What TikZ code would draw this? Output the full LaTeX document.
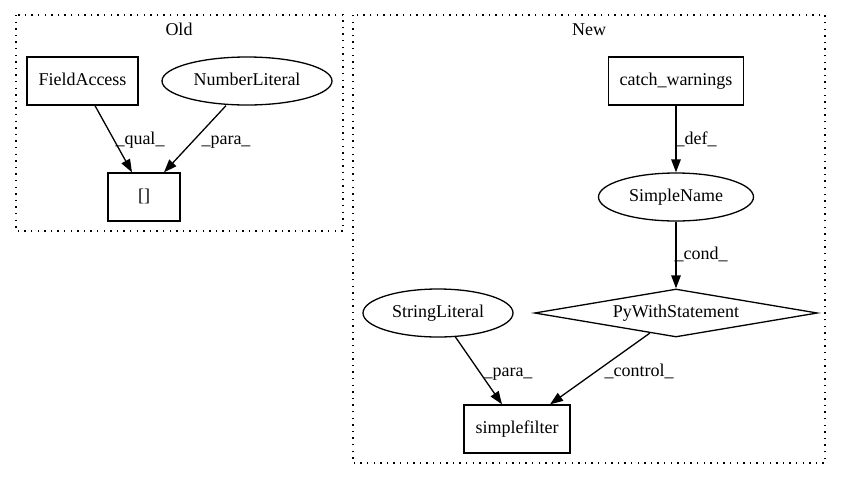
\documentclass[tikz,border=0pt]{standalone}
\usepackage{fontspec}
\setmainfont{Liberation Serif}
\usetikzlibrary{shapes.geometric,arrows.meta,calc}
\begin{document}
\begin{tikzpicture}[x=1pt,y=-1pt,
  every node/.style={font=\fontsize{18}{20}\selectfont, inner sep=0pt, text height=12pt, text depth=4pt},
  box/.style={draw, line width=1.3pt, rectangle},
  oval/.style={draw, line width=1.3pt, ellipse},
  cluster/.style={draw, line width=1.3pt, dash pattern=on 1.4pt off 5.2pt},
  edge/.style={draw, line width=1.3pt, -{Triangle[length=13pt,width=9.5pt]}},
  lbl/.style={}]
\useasboundingbox (0,0) rectangle (841,480);
\fill[white] (0,0) rectangle (841,480);
% clusters
\draw[cluster] (16,15) rectangle (343,231);
\draw[cluster] (353,15) rectangle (825,463);
\node (told) at (179,31) {Old};
\node (tnew) at (589,31) {New};
% Old nodes
\node[box, minimum width=111pt, minimum height=48pt] (fa) at (82.5,81) {FieldAccess};
\node[oval, minimum width=170pt, minimum height=48pt] (nl) at (247,81) {NumberLiteral};
\node[box, minimum width=72pt, minimum height=48pt] (br) at (144,197) {[]};
% New nodes
\node[box, minimum width=135pt, minimum height=48pt] (cw) at (676,81) {catch\_warnings};
\node[oval, minimum width=155pt, minimum height=48pt] (sn) at (676,197) {SimpleName};
\node[diamond, draw, line width=1.3pt, aspect=5.9, minimum width=283pt, minimum height=48pt] (pw) at (676,313) {PyWithStatement};
\node[oval, minimum width=150pt, minimum height=48pt] (sl) at (438,313) {StringLiteral};
\node[box, minimum width=106pt, minimum height=48pt] (sf) at (517,429) {simplefilter};
% edges
\draw[edge] ([xshift=12.5pt]fa.south) -- ([xshift=-12pt]br.north);
\draw[edge] ([xshift=-21pt]nl.south) -- ([xshift=20pt]br.north);
\draw[edge] (cw.south) -- (sn.north);
\draw[edge] (sn.south) -- (pw.north);
\draw[edge] (sl.-54) -- ([xshift=-15pt]sf.north);
\draw[edge] ($(pw.south)!0.184!(pw.west)$) -- ([xshift=33pt]sf.north);
% edge labels
\node[lbl] (l1) at (140,140) {\_qual\_};
\node[lbl] (l2) at (226,140) {\_para\_};
\node[lbl] (l3) at (696,140) {\_def\_};
\node[lbl] (l4) at (701,255) {\_cond\_};
\node[lbl] (l5) at (508,372) {\_para\_};
\node[lbl] (l6) at (639,372) {\_control\_};
\end{tikzpicture}
\end{document}
